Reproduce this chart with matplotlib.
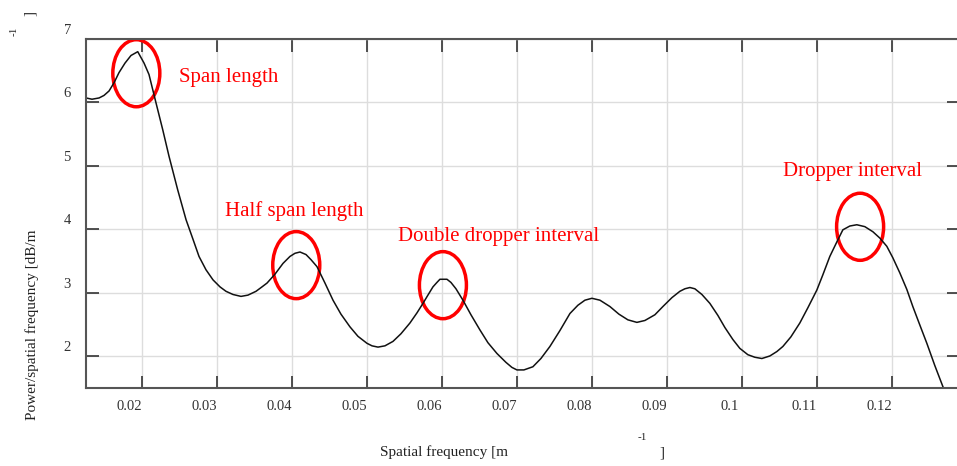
import matplotlib.pyplot as plt
from matplotlib.patches import Ellipse
from matplotlib.transforms import ScaledTranslation

plt.rcParams['font.family'] = ['Liberation Serif', 'DejaVu Serif']

# spectrum
freq = [0.01257, 0.01337, 0.01431, 0.01497, 0.01564, 0.01631, 0.01697, 0.01777,
        0.01857, 0.01947, 0.02031, 0.02097, 0.02191, 0.02280, 0.02364, 0.02480,
        0.02591, 0.02684, 0.02764, 0.02857, 0.02951, 0.03044, 0.03124, 0.03217,
        0.03324, 0.03417, 0.03524, 0.03604, 0.03671, 0.03777, 0.03884, 0.03977,
        0.04044, 0.04111, 0.04191, 0.04257, 0.04337, 0.04444, 0.04551, 0.04657,
        0.04777, 0.04884, 0.05004, 0.05071, 0.05151, 0.05244, 0.05351, 0.05457,
        0.05577, 0.05671, 0.05751, 0.05817, 0.05884, 0.05937, 0.05977, 0.06071,
        0.06124, 0.06191, 0.06284, 0.06391, 0.06511, 0.06617, 0.06737, 0.06857,
        0.06937, 0.07004, 0.07097, 0.07217, 0.07324, 0.07444, 0.07577, 0.07711,
        0.07817, 0.07911, 0.08004, 0.08111, 0.08244, 0.08364, 0.08484, 0.08604,
        0.08711, 0.08844, 0.08951, 0.09071, 0.09177, 0.09244, 0.09311, 0.09377,
        0.09471, 0.09577, 0.09684, 0.09777, 0.09884, 0.09977, 0.10084, 0.10177,
        0.10271, 0.10377, 0.10471, 0.10551, 0.10657, 0.10777, 0.10884, 0.11004,
        0.11084, 0.11177, 0.11271, 0.11351, 0.11444, 0.11537, 0.11644, 0.11751,
        0.11844, 0.11937, 0.12017, 0.12111, 0.12204, 0.12284, 0.12377, 0.12471,
        0.12577, 0.12684, 0.12777]
power = [6.07, 6.05, 6.07, 6.11, 6.18, 6.31, 6.47, 6.62,
         6.74, 6.80, 6.62, 6.44, 5.99, 5.57, 5.15, 4.62,
         4.15, 3.84, 3.57, 3.36, 3.20, 3.09, 3.02, 2.97,
         2.94, 2.96, 3.02, 3.09, 3.15, 3.29, 3.46, 3.57,
         3.62, 3.64, 3.60, 3.52, 3.41, 3.15, 2.88, 2.66,
         2.46, 2.31, 2.20, 2.16, 2.14, 2.16, 2.23, 2.35,
         2.52, 2.68, 2.83, 2.96, 3.09, 3.16, 3.21, 3.21,
         3.16, 3.06, 2.88, 2.65, 2.41, 2.21, 2.04, 1.90,
         1.82, 1.78, 1.78, 1.83, 1.96, 2.15, 2.40, 2.67,
         2.80, 2.88, 2.91, 2.88, 2.78, 2.66, 2.57, 2.53,
         2.56, 2.65, 2.78, 2.92, 3.02, 3.06, 3.08, 3.06,
         2.97, 2.83, 2.64, 2.45, 2.26, 2.12, 2.02, 1.98,
         1.96, 2.00, 2.07, 2.15, 2.30, 2.52, 2.76, 3.04,
         3.28, 3.57, 3.80, 3.99, 4.05, 4.07, 4.04, 3.96,
         3.86, 3.73, 3.55, 3.31, 3.05, 2.78, 2.49, 2.20,
         1.85, 1.52, 1.25]

xticks = [0.02, 0.03, 0.04, 0.05, 0.06, 0.07, 0.08, 0.09, 0.1, 0.11, 0.12]
xtick_labels = ['0.02', '0.03', '0.04', '0.05', '0.06', '0.07', '0.08', '0.09', '0.1', '0.11', '0.12']
yticks = [2, 3, 4, 5, 6, 7]

# circled peaks and their labels
marks_x = [0.01928, 0.04061, 0.06017, 0.11581]
marks_y = [6.46, 3.433, 3.117, 4.038]
names = ['Span length', 'Half span length', 'Double dropper interval', 'Dropper interval']
names_x = [0.02493, 0.0311, 0.05418, 0.10555]
names_y = [6.40, 4.28, 3.88, 4.91]

fig = plt.figure(figsize=(9.57, 4.66), dpi=100)
ax = fig.add_axes([0.0899, 0.1674, 0.9122, 0.7489])

ax.plot(freq, power, color='#111111', lw=1.1)

for cx, cy in zip(marks_x, marks_y):
    ax.add_patch(Ellipse((cx, cy), 0.00627, 1.058, fill=False, ec='red', lw=2.5))
for t, tx, ty in zip(names, names_x, names_y):
    ax.text(tx, ty, t, color='red', fontsize=15, ha='left', va='center')

ax.set_xlim(0.012573, 0.1290)
ax.set_ylim(1.495, 7.0)
ax.set_xticks(xticks)
ax.set_xticklabels(xtick_labels)
ax.set_yticks(yticks)
ax.grid(True, color='#dddddd', lw=1)
ax.set_axisbelow(True)

ax.tick_params(direction='in', top=True, right=True, length=9, width=1.2,
               colors='#333333', labelsize=10.5, labelcolor='#333333')
ax.tick_params(axis='x', pad=9)
ax.tick_params(axis='y', pad=11)
for s in ax.spines.values():
    s.set_color('#555555')
    s.set_linewidth(1.5)

# the tick labels sit a little off their ticks in the original
for lab in ax.get_xticklabels():
    lab.set_transform(lab.get_transform() + ScaledTranslation(-0.12, 0, fig.dpi_scale_trans))
for lab in ax.get_yticklabels():
    lab.set_transform(lab.get_transform() + ScaledTranslation(0, 0.10, fig.dpi_scale_trans))

# axis titles with their detached superscripts
fig.text(380 / 957, 1 - 452 / 466, 'Spatial frequency [m', fontsize=11, ha='left', va='center', color='#222222')
fig.text(642 / 957, 1 - 438 / 466, '-1', fontsize=8, ha='center', va='center', color='#222222')
fig.text(662 / 957, 1 - 453 / 466, ']', fontsize=11, ha='center', va='center', color='#222222')

fig.text(32 / 957, 1 - 325 / 466, 'Power/spatial frequency [dB/m', fontsize=11, rotation=90,
         ha='center', va='center', color='#222222')
fig.text(14 / 957, 1 - 31 / 466, '-1', fontsize=8, rotation=90, ha='center', va='center', color='#222222')
fig.text(30 / 957, 1 - 13 / 466, ']', fontsize=11, rotation=90, ha='center', va='center', color='#222222')

fig.savefig('out.png', dpi=100)
